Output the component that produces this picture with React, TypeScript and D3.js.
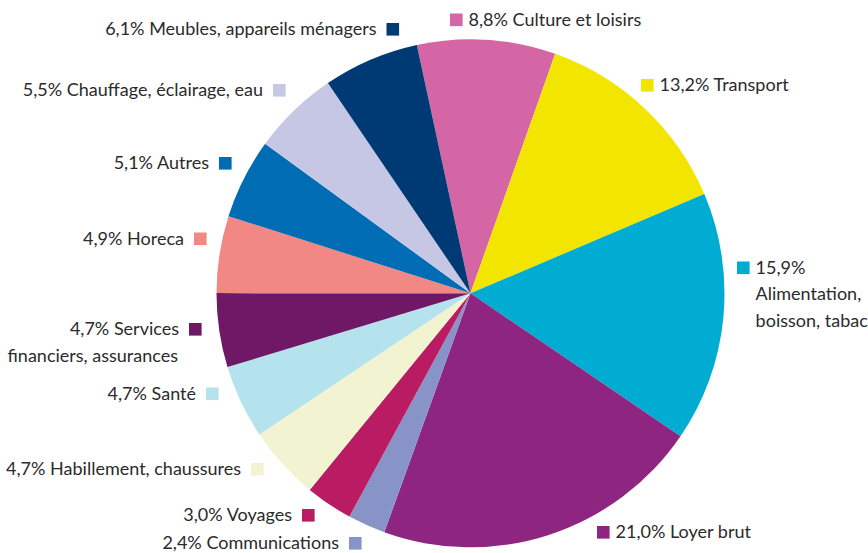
import React from "react";
import * as d3 from "d3";

const categories = [
  "Culture et loisirs",
  "Transport",
  "Alimentation, boisson, tabac",
  "Loyer brut",
  "Communications",
  "Voyages",
  "Habillement, chaussures",
  "Santé",
  "Services financiers, assurances",
  "Horeca",
  "Autres",
  "Chauffage, éclairage, eau",
  "Meubles, appareils ménagers",
];
const values = [8.8, 13.2, 15.9, 21.0, 2.4, 3.0, 4.7, 4.7, 4.7, 4.9, 5.1, 5.5, 6.1];
const colors = [
  "#d466a6", "#f2e600", "#00acd2", "#8e2581", "#8894c8", "#b91c63",
  "#f1f3d1", "#b4e2ed", "#6f1866", "#f28883", "#006cb4", "#c6c7e4", "#003a74",
];
// label text lines (first line contains the percentage)
const labelLines = [
  ["8,8% Culture et loisirs"],
  ["13,2% Transport"],
  ["15,9%", "Alimentation,", "boisson, tabac"],
  ["21,0% Loyer brut"],
  ["2,4% Communications"],
  ["3,0% Voyages"],
  ["4,7% Habillement, chaussures"],
  ["4,7% Santé"],
  ["4,7% Services", "financiers, assurances"],
  ["4,9% Horeca"],
  ["5,1% Autres"],
  ["5,5% Chauffage, éclairage, eau"],
  ["6,1% Meubles, appareils ménagers"],
];

// layout: legend square top-left (x, y), side = "right" means text right of square
const labelLayout = [
  { x: 450, y: 13.5, side: "right" },
  { x: 641, y: 79, side: "right" },
  { x: 737, y: 261.5, side: "right" },
  { x: 597, y: 526, side: "right" },
  { x: 349, y: 537, side: "left" },
  { x: 302, y: 509, side: "left" },
  { x: 251, y: 463, side: "left" },
  { x: 206, y: 387.5, side: "left" },
  { x: 189, y: 323, side: "left" },
  { x: 194, y: 232.5, side: "left" },
  { x: 219, y: 157, side: "left" },
  { x: 273, y: 84, side: "left" },
  { x: 386.5, y: 23, side: "left" },
];

const W = 868;
const H = 553;
const cx = 470.5;
const cy = 293.3;
const R = 254;
const SQ = 12.6;
const FONT = "Lato, 'Open Sans', sans-serif";
const FS = 18;
const LINE = 26.5;

export default function App() {
  const start = (-12.2 * Math.PI) / 180;
  const pie = d3
    .pie<number>()
    .sort(null)
    .value((d) => d)
    .startAngle(start)
    .endAngle(start + 2 * Math.PI);
  const arcs = pie(values);
  const arcGen = d3.arc<d3.PieArcDatum<number>>().innerRadius(0).outerRadius(R);

  return (
    <svg
      width={W}
      height={H}
      style={{ position: "absolute", left: 0, top: 0, background: "#fff" }}
    >
      <g transform={`translate(${cx},${cy})`}>
        {arcs.map((a, i) => (
          <path key={categories[i]} d={arcGen(a) || ""} fill={colors[i]} />
        ))}
      </g>
      {labelLayout.map((l, i) => {
        const lines = labelLines[i];
        const baseline = l.y + SQ - 0.4;
        if (l.side === "right") {
          return (
            <g key={i}>
              <rect x={l.x} y={l.y} width={SQ} height={SQ} fill={colors[i]} />
              {lines.map((t, j) => (
                <text
                  key={j}
                  x={l.x + SQ + 6}
                  y={baseline + j * LINE}
                  fontFamily={FONT}
                  fontSize={FS}
                  fill="#2b2b2b"
                >
                  {t}
                </text>
              ))}
            </g>
          );
        }
        return (
          <g key={i}>
            <rect x={l.x} y={l.y} width={SQ} height={SQ} fill={colors[i]} />
            {lines.map((t, j) => (
              <text
                key={j}
                x={j === 0 ? l.x - 10 : l.x - 11}
                y={baseline + j * LINE}
                textAnchor="end"
                fontFamily={FONT}
                fontSize={FS}
                fill="#2b2b2b"
              >
                {t}
              </text>
            ))}
          </g>
        );
      })}
    </svg>
  );
}
